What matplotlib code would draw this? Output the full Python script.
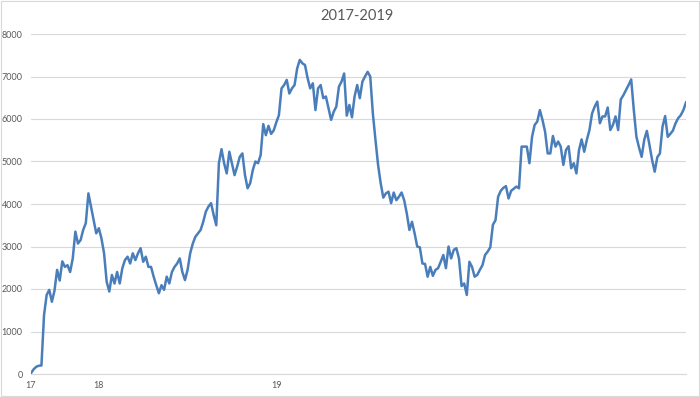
import matplotlib
matplotlib.use("Agg")
import matplotlib.pyplot as plt
from matplotlib.patches import Rectangle

title = "2017-2019"
values = [
    20, 110, 170, 195, 200, 1390, 1860, 1980, 1700, 1960,
    2450, 2200, 2650, 2520, 2560, 2400, 2720, 3350, 3070, 3150,
    3390, 3550, 4250, 3940, 3620, 3310, 3430, 3190, 2840, 2170,
    1940, 2330, 2130, 2400, 2130, 2490, 2680, 2760, 2600, 2840,
    2680, 2840, 2960, 2640, 2760, 2520, 2520, 2290, 2090, 1900,
    2090, 1980, 2290, 2130, 2400, 2520, 2600, 2720, 2400, 2210,
    2450, 2840, 3070, 3230, 3310, 3390, 3580, 3820, 3940, 4020,
    3740, 3500, 4960, 5290, 4960, 4720, 5230, 4960, 4680, 4880,
    5110, 5190, 4680, 4370, 4490, 4800, 5000, 4960, 5150, 5880,
    5620, 5840, 5650, 5730, 5920, 6090, 6720, 6800, 6920, 6600,
    6720, 6800, 7190, 7390, 7310, 7270, 6960, 6720, 6840, 6210,
    6720, 6800, 6490, 6530, 6250, 5980, 6170, 6290, 6760, 6880,
    7070, 6080, 6330, 6040, 6530, 6800, 6490, 6880, 7000, 7110,
    7000, 6130, 5510, 4920, 4490, 4150, 4250, 4290, 4020, 4270,
    4090, 4170, 4270, 4090, 3780, 3390, 3580, 3310, 3000, 2980,
    2600, 2590, 2290, 2520, 2310, 2450, 2490, 2640, 2800, 2490,
    3000, 2720, 2920, 2960, 2720, 2070, 2130, 1860, 2640, 2520,
    2290, 2330, 2450, 2560, 2800, 2880, 2980, 3510, 3620, 4170,
    4310, 4380, 4420, 4130, 4310, 4360, 4410, 4370, 5350, 5350,
    5350, 4960, 5580, 5860, 5940, 6210, 5980, 5700, 5190, 5190,
    5600, 5350, 5470, 5350, 4920, 5270, 5360, 4840, 4960, 4720,
    5270, 5520, 5230, 5510, 5740, 6130, 6290, 6410, 5900, 6060,
    6060, 6270, 5740, 5860, 6060, 5740, 6460, 6560, 6680, 6800,
    6930, 6210, 5580, 5330, 5110, 5510, 5720, 5390, 5040, 4760,
    5100, 5190, 5820, 6070, 5580, 5650, 5730, 5900, 6020, 6090,
    6210, 6390,
]
tick_index = [0, 26, 94]
tick_labels = ["17", "18", "19"]
y_ticks = [0, 1000, 2000, 3000, 4000, 5000, 6000, 7000, 8000]

plt.rcParams['font.family'] = ['Lato', 'DejaVu Sans']

fig = plt.figure(figsize=(7.0, 3.97), dpi=100)
ax = fig.add_axes([31/700, 23/397, (686-31)/700, (374-34)/397])

x = list(range(len(values)))
ax.plot(x, values, color="#4a7ebb", lw=1.8, solid_joinstyle="round", zorder=3)

ax.set_xlim(0, len(values) - 1)
ax.set_ylim(0, 8000)
ax.set_yticks(y_ticks)
ax.set_yticklabels([str(v) for v in y_ticks])
ax.set_xticks(tick_index)
ax.set_xticklabels(tick_labels)
ax.tick_params(axis="both", length=0, labelsize=6.5, colors="#595959")
ax.tick_params(axis="y", pad=6)
ax.tick_params(axis="x", pad=5)

ax.grid(axis="y", color="#d9d9d9", lw=0.8, zorder=0)
ax.grid(axis="x", visible=False)
for s in ["top", "right", "left"]:
    ax.spines[s].set_visible(False)
ax.spines["bottom"].set_color("#d9d9d9")
ax.spines["bottom"].set_linewidth(0.8)

fig.text(357/700, 1 - 16/397, title, ha="center", va="center", fontsize=10.5, color="#595959")

fig.patches.append(Rectangle((0.001, 0.002), 0.997, 0.995, transform=fig.transFigure,
                             fill=False, edgecolor="#d9d9d9", lw=0.8))

fig.savefig("out.png", dpi=100, facecolor="white")
